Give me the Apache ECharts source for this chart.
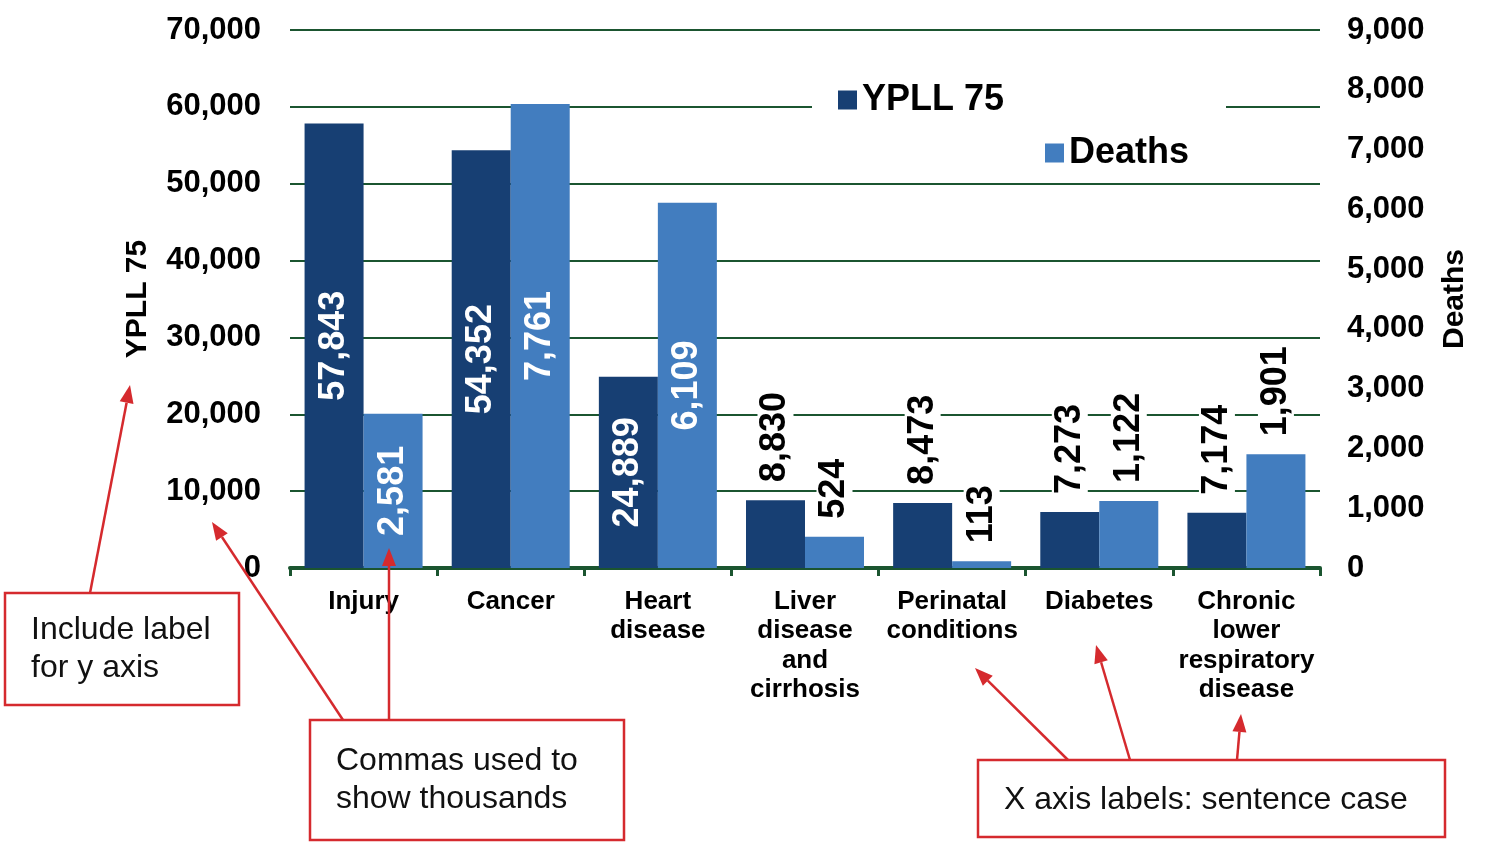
<!DOCTYPE html>
<html>
<head>
<meta charset="utf-8">
<script src="https://cdn.jsdelivr.net/npm/echarts@6/dist/echarts.min.js"></script>
<style>
  html, body { margin: 0; padding: 0; background: #fff; }
  #chart { width: 1486px; height: 846px; }
</style>
</head>
<body>
<div id="chart"></div>
<script>
// ---- data ----
const categories = ["Injury", "Cancer", "Heart\ndisease", "Liver\ndisease\nand\ncirrhosis",
    "Perinatal\nconditions", "Diabetes", "Chronic\nlower\nrespiratory\ndisease"];
const ypll = [57843, 54352, 24889, 8830, 8473, 7273, 7174];
const deaths = [2581, 7761, 6109, 524, 113, 1122, 1901];
// bars whose value label sits inside the bar
const ypllInside = [true, true, true, false, false, false, false];
const deathsInside = [true, true, true, false, false, false, false];

const FONT = "'Liberation Sans', Arial, sans-serif";
const DARK = "#173f73";
const LIGHT = "#427dbf";
const GREEN = "#1b5530";
const RED = "#d52a2e";

function fmt(v) {
    return Number(v).toLocaleString("en-US");
}

function barData(values, insideFlags) {
    return values.map((v, i) => {
        const inside = insideFlags[i];
        return {
            value: v,
            label: inside ? {
                position: "inside",
                rotate: 90,
                color: "#fff"
            } : {
                position: "top",
                rotate: 90,
                align: "left",
                verticalAlign: "middle",
                distance: 14,
                color: "#000",
                backgroundColor: "#fff",
                padding: [0, 4]
            }
        };
    });
}

// annotation arrow: line from (x1,y1) with arrowhead at (x2,y2)
function arrow(x1, y1, x2, y2) {
    const dx = x2 - x1, dy = y2 - y1;
    const len = Math.sqrt(dx * dx + dy * dy);
    const ux = dx / len, uy = dy / len;
    const hl = 18, hw = 7;
    const bx = x2 - ux * hl, by = y2 - uy * hl;
    return [
        {
            type: "line", z: 10,
            shape: { x1: x1, y1: y1, x2: bx, y2: by },
            style: { stroke: RED, lineWidth: 2.5 }
        },
        {
            type: "polygon", z: 10,
            shape: { points: [[x2, y2], [bx - uy * hw, by + ux * hw], [bx + uy * hw, by - ux * hw]] },
            style: { fill: RED }
        }
    ];
}

function box(x, y, w, h, text, tx, ty) {
    return [
        {
            type: "rect", z: 10,
            shape: { x: x, y: y, width: w, height: h },
            style: { fill: "#fff", stroke: RED, lineWidth: 2.5 }
        },
        {
            type: "text", z: 11, left: tx, top: ty,
            style: { text: text, font: "32px " + FONT, fill: "#111", lineHeight: 38 }
        }
    ];
}

const chart = echarts.init(document.getElementById("chart"));

const graphics = [
    // white panel behind the legend
    { type: "rect", z: 3, shape: { x: 812, y: 76, width: 414, height: 98 }, style: { fill: "#fff" } }
]
    .concat(box(5, 593, 234, 112, "Include label\nfor y axis", 31, 611))
    .concat(box(310, 720, 314, 120, "Commas used to\nshow thousands", 336, 742))
    .concat(box(978, 760, 467, 77, "X axis labels: sentence case", 1004, 781))
    .concat(arrow(90, 593, 130, 385))
    .concat(arrow(343, 720, 212, 522))
    .concat(arrow(389, 720, 389, 548))
    .concat(arrow(1068, 760, 975, 668))
    .concat(arrow(1130, 760, 1096, 645))
    .concat(arrow(1237, 760, 1241, 714));

const legendText = { fontSize: 36, fontWeight: "bold", color: "#000", fontFamily: FONT };

chart.setOption({
    animation: false,
    textStyle: { fontFamily: FONT },
    grid: { left: 290, right: 166, top: 30, bottom: 278, outerBoundsMode: "none", containLabel: false },
    legend: [
        {
            left: 833, top: 77, z: 5,
            icon: "rect",
            itemWidth: 19, itemHeight: 19, itemGap: 8,
            data: ["YPLL 75"],
            textStyle: legendText
        },
        {
            left: 1040, top: 130, z: 5,
            icon: "rect",
            itemWidth: 19, itemHeight: 19, itemGap: 8,
            data: ["Deaths"],
            textStyle: legendText
        }
    ],
    xAxis: {
        type: "category",
        data: categories,
        axisLine: { lineStyle: { color: GREEN, width: 4 } },
        axisTick: { show: true, length: 8, lineStyle: { color: GREEN, width: 3 } },
        axisLabel: {
            interval: 0,
            margin: 19,
            color: "#000",
            fontSize: 26,
            fontWeight: "bold",
            lineHeight: 29.5,
            fontFamily: FONT
        }
    },
    yAxis: [
        {
            type: "value",
            min: 0, max: 70000, interval: 10000,
            name: "YPLL 75",
            nameLocation: "middle",
            nameRotate: 90,
            nameGap: 137,
            nameTextStyle: { fontSize: 30, fontWeight: "bold", color: "#000", fontFamily: FONT },
            axisLine: { show: false },
            axisTick: { show: false },
            axisLabel: {
                margin: 29, color: "#000", fontSize: 31, fontWeight: "bold", fontFamily: FONT,
                formatter: fmt
            },
            splitLine: { lineStyle: { color: GREEN, width: 2 } }
        },
        {
            type: "value",
            min: 0, max: 9000, interval: 1000,
            name: "Deaths",
            nameLocation: "middle",
            nameRotate: 90,
            nameGap: 120,
            nameTextStyle: { fontSize: 30, fontWeight: "bold", color: "#000", fontFamily: FONT },
            axisLine: { show: false },
            axisTick: { show: false },
            axisLabel: {
                margin: 27, color: "#000", fontSize: 31, fontWeight: "bold", fontFamily: FONT,
                formatter: fmt
            },
            splitLine: { show: false }
        }
    ],
    series: [
        {
            name: "YPLL 75",
            type: "bar",
            yAxisIndex: 0,
            barWidth: 59,
            barGap: "0%",
            itemStyle: { color: DARK },
            label: {
                show: true, fontSize: 36, fontWeight: "bold", fontFamily: FONT,
                formatter: p => fmt(p.value)
            },
            data: barData(ypll, ypllInside)
        },
        {
            name: "Deaths",
            type: "bar",
            yAxisIndex: 1,
            barWidth: 59,
            barGap: "0%",
            itemStyle: { color: LIGHT },
            label: {
                show: true, fontSize: 36, fontWeight: "bold", fontFamily: FONT,
                formatter: p => fmt(p.value)
            },
            data: barData(deaths, deathsInside)
        }
    ],
    graphic: graphics
});

window.addEventListener("resize", function () {
    chart.resize();
});
</script>
</body>
</html>
